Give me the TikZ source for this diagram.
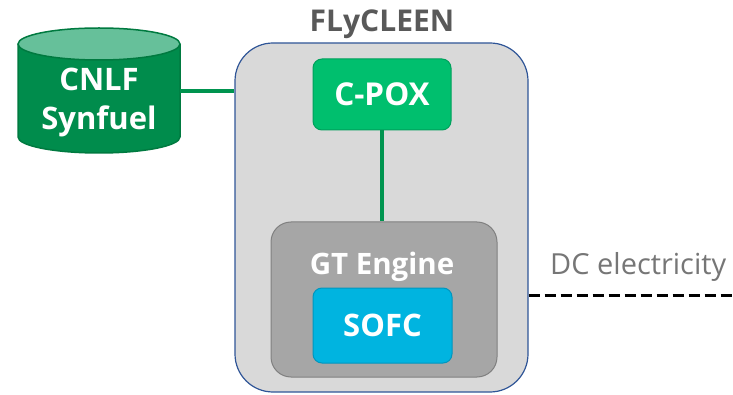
\documentclass[tikz,border=0pt]{standalone}
\usepackage{fontspec}
\setmainfont{Open Sans}
\newcommand\boldff{\bfseries}
\definecolor{cylgreen}{HTML}{008C4C}
\definecolor{cylborder}{HTML}{007A40}
\definecolor{cyltop}{HTML}{66C09A}
\definecolor{linegreen}{HTML}{00944F}
\definecolor{poxgreen}{HTML}{00BF6E}
\definecolor{poxborder}{HTML}{00A05C}
\definecolor{contgray}{HTML}{D9D9D9}
\definecolor{contblue}{HTML}{2F5597}
\definecolor{gtgray}{HTML}{A6A6A6}
\definecolor{gtborder}{HTML}{808080}
\definecolor{sofcblue}{HTML}{00B4E0}
\definecolor{sofcborder}{HTML}{0096BE}
\definecolor{titlegray}{HTML}{595959}
\definecolor{dcgray}{HTML}{767676}
\begin{document}
\begin{tikzpicture}[x=1pt,y=-1pt,
  boxtext/.style={text=white,font=\boldff\fontsize{31.5}{34}\selectfont},
  rbox/.style={rounded corners=9pt,line width=1pt,inner sep=0pt},
  conn/.style={linegreen,line width=3.5pt}]
\useasboundingbox (0,0) rectangle (733,395);
% container
\node[rbox,draw=contblue,fill=contgray,line width=1.2pt,rounded corners=38pt,
  minimum width=293pt,minimum height=349pt] (cont) at (381.5,217.5) {};
\node[text=titlegray,font=\boldff\fontsize{30}{32}\selectfont,anchor=base] (title) at (382,32) {FLyCLEEN};
% cylinder
\fill[cylgreen] (18,44) -- (18,137) arc[start angle=180,end angle=0,x radius=81,y radius=16] -- (180,44) -- cycle;
\fill[cyltop] (99,44) ellipse[x radius=81,y radius=16];
\draw[cylborder,line width=1.5pt] (18,44) -- (18,137) arc[start angle=180,end angle=0,x radius=81,y radius=16] -- (180,44);
\draw[cylborder,line width=1.5pt] (99,44) ellipse[x radius=81,y radius=16];
\node[boxtext,align=center,font=\boldff\fontsize{31}{39}\selectfont,minimum width=162pt] (cyl) at (99,103) {CNLF\\Synfuel};
\coordinate (cylE) at (180,91);
% C-POX
\node[rbox,draw=poxborder,fill=poxgreen,minimum width=138pt,minimum height=71pt,boxtext] (cpox) at (382,94.5) {C-POX};
% GT Engine
\node[rbox,draw=gtborder,fill=gtgray,rounded corners=20pt,minimum width=226pt,minimum height=155pt] (gt) at (384,299.5) {};
\node[boxtext,font=\boldff\fontsize{29.5}{30}\selectfont,anchor=base] (gtlabel) at (382,274) {GT Engine};
% SOFC
\node[rbox,draw=sofcborder,fill=sofcblue,minimum width=139pt,minimum height=75pt,boxtext,font=\boldff\fontsize{31}{34}\selectfont] (sofc) at (382.5,325.5) {SOFC};
% connectors
\draw[conn] (cylE) -- (cylE -| cont.west);
\draw[conn] (cpox.south) -- (cpox.south |- gt.north);
% DC electricity
\node[text=dcgray,font=\fontsize{29}{32}\selectfont,anchor=base west,inner sep=0pt] (dc) at (550,275) {DC electricity};
\coordinate (dcend) at (733,295);
\draw[black,line width=3pt,dash pattern=on 11pt off 5pt] (dcend -| cont.east) -- (dcend);
\end{tikzpicture}
\end{document}
